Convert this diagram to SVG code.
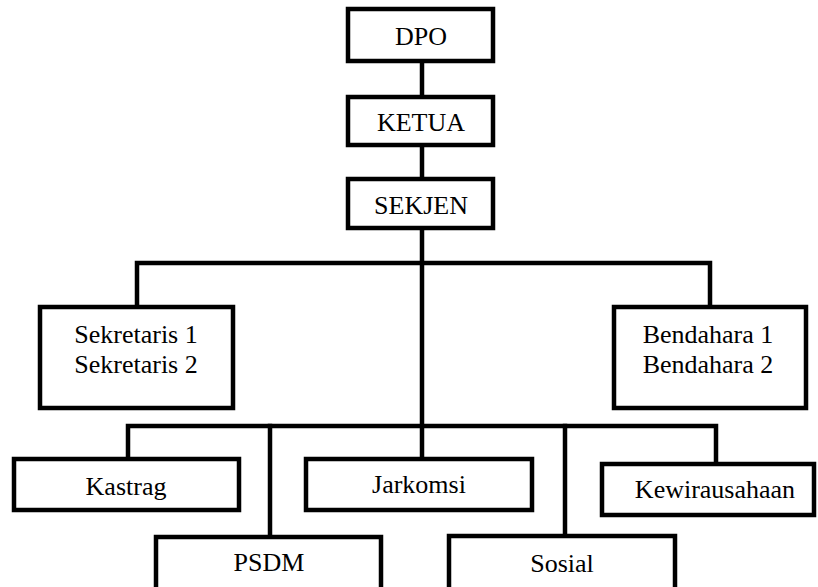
<svg xmlns="http://www.w3.org/2000/svg" width="818" height="587" viewBox="0 0 818 587">
<style>
.box{fill:#fff;stroke:#000;stroke-width:4.5}
.ln{fill:none;stroke:#000;stroke-width:4.5;stroke-linejoin:miter;stroke-linecap:square}
text{font-family:"Liberation Serif","Times New Roman",serif;font-size:26px;fill:#000;text-anchor:middle}
</style>
<rect width="818" height="587" fill="#fff"/>
<g id="connectors">
<path class="ln" d="M422,63V95"/>
<path class="ln" d="M422,147V177"/>
<path class="ln" d="M422,230V457"/>
<path class="ln" d="M137,305V263H710V305"/>
<path class="ln" d="M128,457V426H716V462"/>
<path class="ln" d="M270,426V535"/>
<path class="ln" d="M565,426V534"/>
</g>
<g id="dpo"><rect class="box" x="348" y="9" width="145" height="52"/><text x="421" y="45">DPO</text></g>
<g id="ketua"><rect class="box" x="348" y="97" width="145" height="48"/><text x="421" y="131">KETUA</text></g>
<g id="sekjen"><rect class="box" x="348" y="179" width="145" height="49"/><text x="421" y="214">SEKJEN</text></g>
<g id="sekretaris"><rect class="box" x="40" y="307" width="193" height="101"/><text x="136" y="343">Sekretaris 1</text><text x="136" y="373">Sekretaris 2</text></g>
<g id="bendahara"><rect class="box" x="614" y="307" width="192" height="101"/><text x="708" y="343">Bendahara 1</text><text x="708" y="373">Bendahara 2</text></g>
<g id="kastrag"><rect class="box" x="14" y="459" width="225" height="51"/><text x="126" y="495">Kastrag</text></g>
<g id="jarkomsi"><rect class="box" x="306" y="459" width="226" height="51"/><text x="419" y="493">Jarkomsi</text></g>
<g id="kewirausahaan"><rect class="box" x="602" y="464" width="212" height="51"/><text x="715" y="498">Kewirausahaan</text></g>
<g id="psdm"><rect class="box" x="156" y="537" width="225" height="60"/><text x="269" y="571">PSDM</text></g>
<g id="sosial"><rect class="box" x="449" y="536" width="226" height="60"/><text x="562" y="572">Sosial</text></g>
</svg>
